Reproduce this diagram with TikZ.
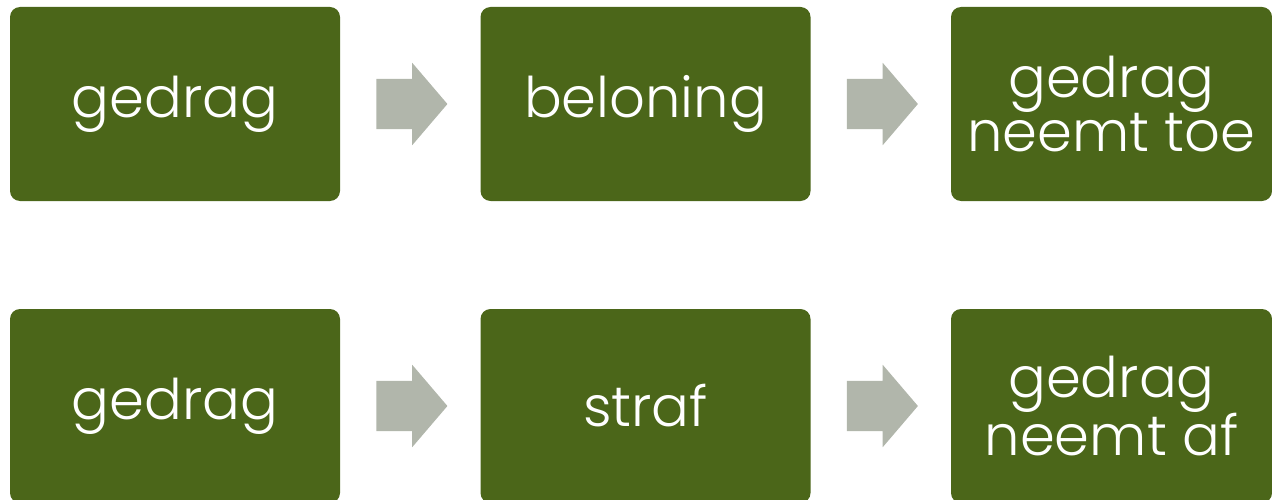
\documentclass[tikz,border=0pt]{standalone}
\usepackage{fontspec}
\setmainfont{Poppins Light}
\usetikzlibrary{shapes.arrows,calc}
\definecolor{mosgroen}{HTML}{4B6619}
\definecolor{pijlgrijs}{HTML}{B1B6AB}
\tikzset{
    vak/.style={fill=mosgroen, rounded corners=10pt, minimum width=330pt,
        minimum height=194pt, inner sep=0pt, text=white, align=center,
        font=\fontsize{56}{53}\selectfont},
    pijl/.style={single arrow, fill=pijlgrijs, inner xsep=0pt, inner ysep=25pt,
        text height=0pt, text depth=0pt, minimum height=71pt, anchor=tail,
        single arrow head extend=16pt, single arrow tip angle=99}
}
\begin{document}
\begin{tikzpicture}[x=1pt,y=-1pt]
    \clip (0,0) rectangle (1272,500);
    % bovenste rij: beloning
    \node[vak] (gedrag1) at (175,104) {gedrag};
    \node[vak] (beloning) at (645.5,104) {beloning};
    \node[vak, minimum width=321pt] (toe) at (1111.5,104) {gedrag\\neemt toe};
    % onderste rij: straf
    \node[vak] (gedrag2) at (175,406) {gedrag};
    \node[vak] (straf) at (645.5,406) {straf};
    \node[vak, minimum width=321pt] (af) at (1111.5,406) {gedrag\\neemt af};
    % pijlen
    \node[pijl] (p1) at ($(gedrag1.east)+(36,0)$) {};
    \node[pijl] (p2) at ($(beloning.east)+(36,0)$) {};
    \node[pijl] (p3) at ($(gedrag2.east)+(36,0)$) {};
    \node[pijl] (p4) at ($(straf.east)+(36,0)$) {};
\end{tikzpicture}
\end{document}
